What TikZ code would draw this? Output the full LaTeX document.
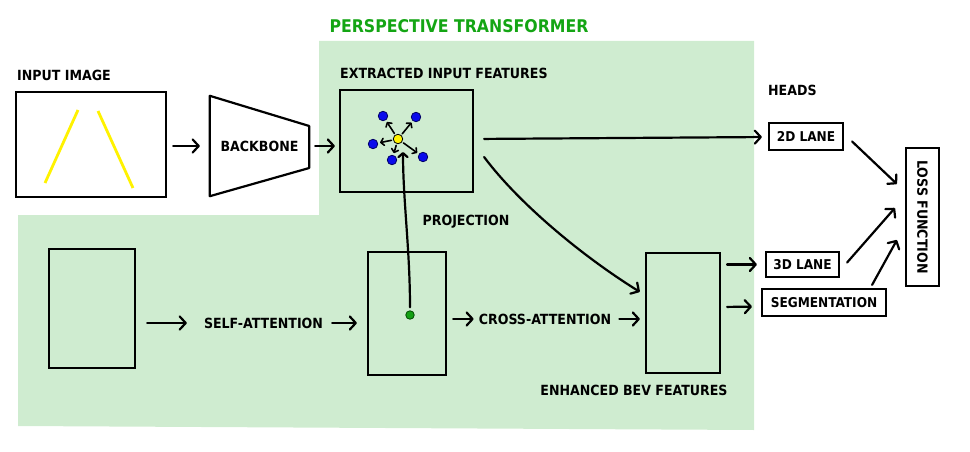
\documentclass[tikz,border=0pt]{standalone}
\usepackage{fontspec}
\setmainfont{DejaVu Sans Condensed}
\usetikzlibrary{arrows.meta,calc}
\definecolor{bgreen}{RGB}{207,236,208}
\definecolor{tgreen}{RGB}{20,165,20}
\definecolor{dblue}{RGB}{10,10,235}
\definecolor{dyellow}{RGB}{255,242,0}
\definecolor{dgreen}{RGB}{20,160,20}
\begin{document}
\begin{tikzpicture}[x=1pt,y=-1pt,
  bx/.style args={#1x#2}{draw,line width=2.2pt,inner sep=0pt,minimum width=#1pt,minimum height=#2pt},
  lbl/.style={font=\fontsize{14}{16}\selectfont\bfseries,inner sep=0pt},
  hbox/.style args={#1x#2}{bx=#1x#2,font=\fontsize{13.5}{16}\selectfont\bfseries},
  arr/.style={line width=2.2pt,line cap=round,-{Straight Barb[length=6pt,width=13pt,round]}},
  sarr/.style={line width=1.6pt,line cap=round,-{Straight Barb[length=3pt,width=7pt,round]}},
  dot/.style={circle,draw=black!60!blue,line width=0.8pt,inner sep=0pt,minimum size=9.5pt}]
\useasboundingbox (0,0) rectangle (970,452);
% green region
\fill[bgreen] (319,41) -- (754,41) -- (754,430) -- (18,426) -- (18,215) -- (319,215) -- cycle;

% labels
\node[lbl,text=tgreen,font=\fontsize{17.5}{20}\selectfont\bfseries] (title) at (459,26) {PERSPECTIVE TRANSFORMER};
\node[lbl,anchor=west] (limg) at (17,75) {INPUT IMAGE};
\node[lbl,anchor=west] (lext) at (340,73) {EXTRACTED INPUT FEATURES};
\node[lbl,anchor=west] (lheads) at (768,90) {HEADS};
\node[lbl] (lproj) at (466,222) {PROJECTION};
\node[lbl] (sa) at (263.5,323) {SELF-ATTENTION};
\node[lbl] (ca) at (545,319) {CROSS-ATTENTION};
\node[lbl] (lenh) at (634,390) {ENHANCED BEV FEATURES};

% boxes
\node[bx=150x105] (img) at (91,144.5) {};
\node[inner sep=0pt,minimum width=99pt,minimum height=100pt,lbl] (bb) at (259.5,146) {BACKBONE};
\draw[line width=2.2pt,line join=round] (bb.north west) -- ($(bb.east)+(0,-20)$) -- ($(bb.east)+(0,22)$) -- (bb.south west) -- cycle;
\node[bx=133x102] (ext) at (406.5,141) {};
\node[bx=86x119] (bev) at (92,308.5) {};
\node[bx=78x123] (mid) at (407,313.5) {};
\node[bx=74x120] (enh) at (683,313) {};
\node[hbox=74x27] (lane2) at (806,136.5) {2D LANE};
\node[hbox=73x25] (lane3) at (802.5,264.5) {3D LANE};
\node[hbox=124x27] (seg) at (824,302.5) {SEGMENTATION};
\node[bx=33x138] (loss) at (922.5,217) {};
\node[lbl,rotate=-90] (llos) at (loss.center) {LOSS FUNCTION};

% lane lines in input image
\draw[dyellow,line width=2.8pt] ($(img.center)+(-13,-34.5)$) -- ($(img.center)+(-46,38.5)$);
\draw[dyellow,line width=2.8pt] ($(img.center)+(7,-33.5)$) -- ($(img.center)+(42,43.5)$);

% dots
\node[dot,fill=dyellow,draw=black] (c) at (398,139) {};
\node[dot,fill=dblue] (b1) at (383,116) {};
\node[dot,fill=dblue] (b2) at (416,117) {};
\node[dot,fill=dblue] (b3) at (373,144) {};
\node[dot,fill=dblue] (b4) at (392,160) {};
\node[dot,fill=dblue] (b5) at (423,157) {};
\foreach \b in {b1,b2,b3,b4,b5}
  \draw[sarr,shorten <=1.5pt,shorten >=2pt] (c) -- (\b);
\node[dot,fill=dgreen,draw=black!70!green,minimum size=8.5pt] (g) at (410,315) {};

% connectors
\draw[arr,shorten <=6pt,shorten >=10pt] (img.east |- bb.west) -- (bb.west);
\draw[arr,shorten <=6pt,shorten >=4pt] (bb.east) -- (ext.west |- bb.east);
\draw[arr,shorten <=10pt,shorten >=6pt] ($(ext.east)+(0,-2)$) -- ($(lane2.west)+(0,0.5)$);
\draw[arr,shorten >=6pt] ($(ext.east)+(10,16)$) .. controls (520,205) and (585,258) .. ($(enh.west)+(0,-18)$);
\draw[line width=2.2pt,line cap=round,-{Straight Barb[length=4pt,width=9pt,round]},shorten <=3pt,shorten >=2pt] (g) .. controls (410,250) and (403,200) .. ($(c)+(5,11)$);
\draw[arr,shorten <=11pt,shorten >=17pt] (bev.east |- sa.west) -- (sa.west);
\draw[arr,shorten <=9pt,shorten >=10pt] (sa.east) -- (mid.west |- sa.east);
\draw[arr,shorten <=6pt,shorten >=5pt] (mid.east |- ca.west) -- (ca.west);
\draw[arr,shorten <=8pt,shorten >=5pt] (ca.east) -- (enh.west |- ca.east);
\draw[arr,shorten <=6pt,shorten >=8pt] (enh.east |- lane3.west) -- (lane3.west);
\draw[arr,shorten <=6pt,shorten >=9pt] ($(enh.east)+(0,-6)$) -- ($(seg.west)+(0,4)$);
\draw[arr] ($(lane2.east)+(8,5)$) -- ($(loss.west)+(-8,-33)$);
\draw[arr] ($(lane3.east)+(7,-2)$) -- ($(loss.west)+(-10,-9)$);
\draw[arr] ($(seg.north east)+(-15,-3)$) -- ($(loss.west)+(-8,23)$);
\end{tikzpicture}
\end{document}
